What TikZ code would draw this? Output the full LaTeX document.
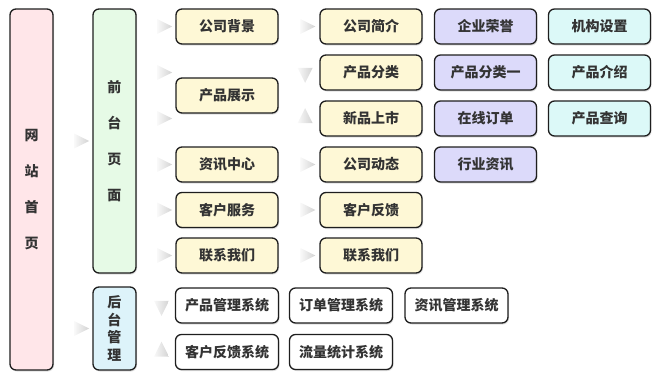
\documentclass[tikz,border=0pt]{standalone}
\usepackage{fontspec}
\setmainfont{Noto Sans CJK SC}
\usetikzlibrary{shapes.geometric,shadows}
\definecolor{boxline}{HTML}{1E1E1E}
\definecolor{txt}{HTML}{333333}
\definecolor{pinkfill}{HTML}{FFE6E9}
\definecolor{greenfill}{HTML}{E6FAE6}
\definecolor{bluefill}{HTML}{DDF3FA}
\definecolor{yellowfill}{HTML}{FEF8D6}
\definecolor{lilacfill}{HTML}{DCDAFA}
\definecolor{cyanfill}{HTML}{DCF9F8}
\tikzset{
  box/.style={draw=boxline,line width=1.3pt,rounded corners=6pt,text=txt,
    inner sep=2pt,drop shadow={opacity=0.25,shadow xshift=1pt,shadow yshift=-1.5pt}},
  lvl/.style={box,minimum width=102pt,minimum height=35pt,fill=yellowfill},
  lilac/.style={lvl,fill=lilacfill},
  cyanbox/.style={lvl,fill=cyanfill},
  sysbox/.style={lvl,fill=white,minimum width=103pt},
  vbox/.style={box,minimum width=43pt,text width=16pt,align=center},
  garrow/.style={isosceles triangle,isosceles triangle stretches,minimum width=15pt,
    minimum height=15pt,inner sep=0pt,left color=gray!5,right color=gray!35,draw=none},
  tilted/.style={garrow,shape border rotate=#1}
}
\begin{document}
\begin{tikzpicture}[x=1pt,y=-1pt,font=\fontsize{14}{17.5}\selectfont\bfseries]
\useasboundingbox (0,0) rectangle (657,386);
% left column
\node[vbox,fill=pinkfill,minimum height=361pt,font=\fontsize{14}{36}\selectfont\bfseries] (home) at (31.5,189.5) {网\\站\\首\\页};
\node[vbox,fill=greenfill,minimum height=264pt,font=\fontsize{14}{36}\selectfont\bfseries] (qt) at (114.5,141) {前\\台\\页\\面};
\node[vbox,fill=bluefill,minimum height=83pt] (ht) at (114.5,328.5) {后\\台\\管\\理};
% front pages
\node[lvl] (gsbj) at (227,26.5) {公司背景};
\node[lvl] (cpzs) at (227,95.5) {产品展示};
\node[lvl] (zxzx) at (227,164.5) {资讯中心};
\node[lvl] (khfw) at (227,210) {客户服务};
\node[lvl] (lxwm) at (227,255.5) {联系我们};
\node[lvl] (gsjj) at (371,26.5) {公司简介};
\node[lvl] (cpfl) at (371,72.5) {产品分类};
\node[lvl] (xpss) at (371,118.5) {新品上市};
\node[lvl] (gsdt) at (371,164.5) {公司动态};
\node[lvl] (khfk) at (371,210) {客户反馈};
\node[lvl] (lxwm2) at (371,255.5) {联系我们};
\node[lilac] (qyry) at (485.5,26.5) {企业荣誉};
\node[lilac] (cpfly) at (485.5,72.5) {产品分类一};
\node[lilac] (zxdd) at (485.5,118.5) {在线订单};
\node[lilac] (hyzx) at (485.5,164.5) {行业资讯};
\node[cyanbox] (jgsz) at (599.5,26.5) {机构设置};
\node[cyanbox] (cpjs) at (599.5,72.5) {产品介绍};
\node[cyanbox] (cpcx) at (599.5,118.5) {产品查询};
% back office
\node[sysbox] (cpgl) at (227,305.5) {产品管理系统};
\node[sysbox] (ddgl) at (341,305.5) {订单管理系统};
\node[sysbox] (zxgl) at (456.5,305.5) {资讯管理系统};
\node[sysbox] (khxt) at (227,352) {客户反馈系统};
\node[sysbox] (llxt) at (341,352) {流量统计系统};
% gray arrows
\foreach \src/\dst [count=\i] in {home/qt,home/ht,qt/gsbj,qt/zxzx,qt/khfw,qt/lxwm,
    gsbj/gsjj,zxzx/gsdt,khfw/khfk,lxwm/lxwm2}
  \path (\src.east |- \dst) -- (\dst.west) node[garrow,pos=.65] (ar\i) {};
\path (qt.east |- cpfl) -- (cpzs.west |- cpfl) node[garrow,pos=.65] (arp1) {};
\path (qt.east |- xpss) -- (cpzs.west |- xpss) node[garrow,pos=.65] (arp2) {};
\path (cpzs.east |- cpfl) -- (cpfl.west) node[tilted=-90,pos=.65] (arp3) {};
\path (cpzs.east |- xpss) -- (xpss.west) node[tilted=90,pos=.65] (arp4) {};
\path (ht.east |- cpgl) -- (cpgl.west) node[tilted=-90,pos=.65] (ars1) {};
\path (ht.east |- khxt) -- (khxt.west) node[tilted=90,pos=.65] (ars2) {};
\end{tikzpicture}
\end{document}
